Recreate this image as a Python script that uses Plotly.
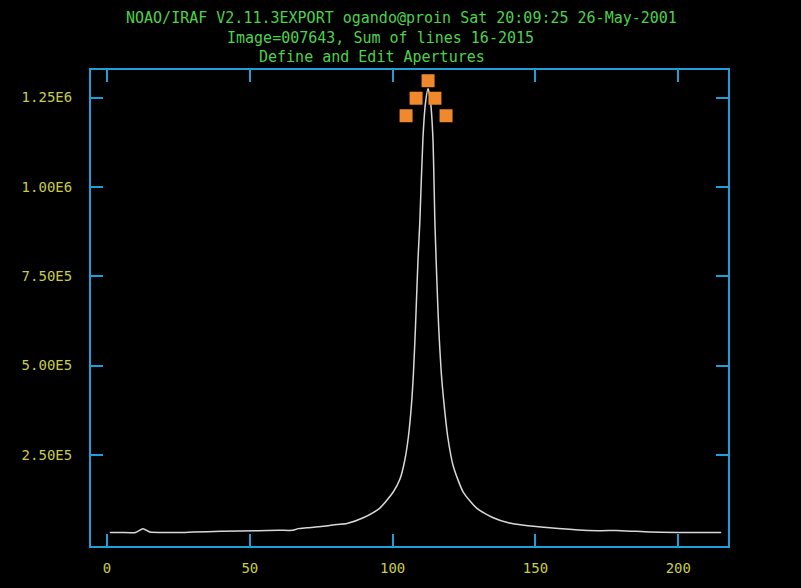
import plotly.graph_objects as go

# Profile (column vs summed counts)
prof_x = [1, 5, 10, 12.6, 15, 20, 26.3, 30, 40, 52.9, 60, 65.1, 66.9, 70, 75.6, 80.4, 84, 89.7, 95.5,
          100.2, 102.6, 104.3, 105.5, 106.6, 107.3, 108.0, 108.9, 109.5, 110.6, 111.5, 112.4,
          113.3, 114.1, 114.8, 115.4, 116.1, 117.0, 118.0, 119.3, 121.2, 124.7, 129.4, 135.2, 140.5,
          146, 155, 165, 172, 180, 190, 200, 210, 215]
prof_y = [33000, 33000, 33000, 43600, 34000, 33000, 33000, 34000, 36000, 38000, 39000, 39000, 43600, 46000,
          50000, 55000, 58000, 74000, 101000, 146000, 183000, 237000, 300000, 392000, 482000,
          610000, 801000, 899000, 1136000, 1235000, 1275000, 1235000, 1136000, 899000, 755000,
          610000, 482000, 392000, 300000, 219000, 146000, 101000, 74000, 60000, 53000, 46000, 40000,
          38000, 38000, 34000, 33000, 33000, 33000]

# Aperture markers
mark_x = [112.4, 108.2, 114.8, 104.7, 118.7]
mark_y = [1297000, 1248000, 1248000, 1199000, 1199000]

xticks = [0, 50, 100, 150, 200]
yticks = [250000, 500000, 750000, 1000000, 1250000]
yticktext = ["2.50E5", "5.00E5", "7.50E5", "1.00E6", "1.25E6"]

title_lines = ["NOAO/IRAF V2.11.3EXPORT ogando@proin Sat 20:09:25 26-May-2001",
               "Image=007643, Sum of lines 16-2015",
               "Define and Edit Apertures"]

AXC = "#1f9fd8"
LBL = "#c8cc4c"
TTL = "#4cd24c"
FONT = "DejaVu Sans Mono"

fig = go.Figure()
fig.add_trace(go.Scatter(x=prof_x, y=prof_y, mode="lines",
                         line=dict(color="#d8d8d8", width=1.5, shape="spline", smoothing=0.6),
                         hoverinfo="skip"))
fig.add_trace(go.Scatter(x=mark_x, y=mark_y, mode="markers",
                         marker=dict(symbol="square", size=13, color="#f0882c",
                                     line=dict(width=0)), hoverinfo="skip"))

for i, (t, xc, yp) in enumerate(zip(title_lines, [401, 380, 372], [17, 37, 57])):
    fig.add_annotation(text=t, xref="paper", yref="paper",
                       x=(xc - 91) / (728 - 91), y=1 + (70 - yp) / (559 - 70),
                       xanchor="center", yanchor="middle", showarrow=False,
                       font=dict(family=FONT, size=15, color=TTL))

fig.update_layout(
    width=801, height=588,
    margin=dict(l=91, r=73, t=70, b=29),
    paper_bgcolor="black", plot_bgcolor="black",
    showlegend=False,
    xaxis=dict(range=[-5.6, 217.4], tickvals=xticks, ticks="inside", ticklen=12,
               tickcolor=AXC, tickwidth=2, showline=True, linecolor=AXC, linewidth=2,
               mirror="ticks", showgrid=False, zeroline=False,
               tickfont=dict(family=FONT, size=14, color=LBL), ticklabelstandoff=8),
    yaxis=dict(range=[-5000, 1327000], tickvals=yticks, ticktext=yticktext,
               ticks="inside", ticklen=12, tickcolor=AXC, tickwidth=2,
               showline=True, linecolor=AXC, linewidth=2, mirror="ticks",
               showgrid=False, zeroline=False,
               tickfont=dict(family=FONT, size=14, color=LBL), ticklabelstandoff=14),
)

fig.write_html("out.html")
